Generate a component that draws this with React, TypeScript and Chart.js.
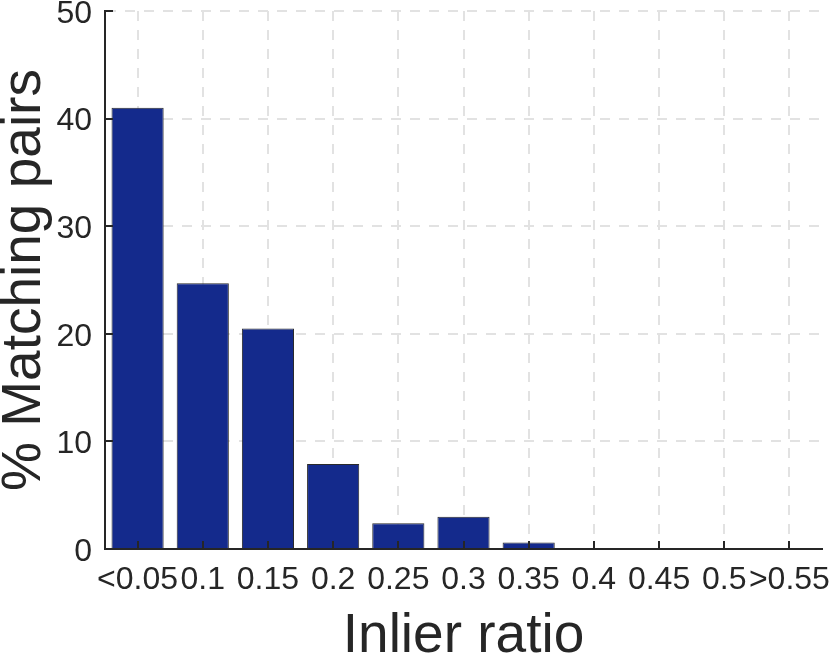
import React, { useEffect, useRef } from "react";
import { Chart, registerables } from "chart.js";

Chart.register(...registerables);

const categories = ["<0.05", "0.1", "0.15", "0.2", "0.25", "0.3", "0.35", "0.4", "0.45", "0.5", ">0.55"];
const matchingPairs = [41.0, 24.7, 20.5, 7.9, 2.4, 3.0, 0.6, 0, 0, 0, 0];
const yTicks = [0, 10, 20, 30, 40, 50];
const xTitle = "Inlier ratio";
const yTitle = "% Matching pairs";

const TEXT = "#262626";
const FONT = "'Liberation Sans', Arial, Helvetica, sans-serif";
const BAR = "#142A8C";
const GRID = "#e2e2e2";

const inwardTicks = {
  id: "inwardTicks",
  afterDatasetsDraw(chart: any) {
    const { ctx, chartArea, scales } = chart;
    const x = scales.x;
    const y = scales.y;
    ctx.save();
    ctx.strokeStyle = TEXT;
    ctx.lineWidth = 2;
    ctx.setLineDash([]);
    ctx.beginPath();
    x.ticks.forEach((_: any, i: number) => {
      const px = Math.round(x.getPixelForTick(i));
      ctx.moveTo(px, chartArea.bottom);
      ctx.lineTo(px, chartArea.bottom - 8);
    });
    y.ticks.forEach((t: any) => {
      const py = Math.round(y.getPixelForValue(t.value));
      ctx.moveTo(chartArea.left, py);
      ctx.lineTo(chartArea.left + 8, py);
    });
    ctx.stroke();
    ctx.restore();
  },
};

export default function App() {
  const ref = useRef<HTMLCanvasElement | null>(null);

  useEffect(() => {
    document.body.style.margin = "0";
    const canvas = ref.current;
    if (!canvas) return;
    const chart = new Chart(canvas, {
      type: "bar",
      data: {
        labels: categories,
        datasets: [
          {
            data: matchingPairs,
            backgroundColor: BAR,
            borderColor: "#2a2a2a",
            borderWidth: 1,
            barPercentage: 0.8,
            categoryPercentage: 1.0,
          },
        ],
      },
      options: {
        responsive: false,
        animation: false,
        devicePixelRatio: 1,
        layout: { padding: { top: 11, right: 9, left: 0, bottom: 0 } },
        plugins: {
          legend: { display: false },
          tooltip: { enabled: false },
        },
        scales: {
          x: {
            offset: true,
            grid: {
              offset: false,
              color: GRID,
              lineWidth: 2,
              drawTicks: false,
            },
            border: { display: true, color: TEXT, width: 2, dash: [10, 9] },
            ticks: {
              autoSkip: false,
              maxRotation: 0,
              minRotation: 0,
              padding: 12,
              color: TEXT,
              font: { family: FONT, size: 32, lineHeight: 1.2 },
            },
            title: {
              display: true,
              text: xTitle,
              color: TEXT,
              padding: 0,
              font: { family: FONT, size: 55, lineHeight: 0.87 },
            },
            afterFit(scale: any) {
              scale.height = 112;
              scale.paddingLeft = 0;
              scale.paddingRight = 0;
            },
          },
          y: {
            min: 0,
            max: 50,
            grid: {
              color: GRID,
              lineWidth: 2,
              drawTicks: false,
            },
            border: { display: true, color: TEXT, width: 2, dash: [10, 9] },
            afterBuildTicks(scale: any) {
              scale.ticks = yTicks.map((v) => ({ value: v }));
            },
            ticks: {
              padding: 13,
              labelOffset: 3,
              color: TEXT,
              font: { family: FONT, size: 32, lineHeight: 1.2 },
            },
            title: {
              display: true,
              text: yTitle,
              color: TEXT,
              padding: 0,
              font: { family: FONT, size: 55, lineHeight: 0.91 },
            },
            afterFit(scale: any) {
              scale.width = 105;
              scale.paddingTop = 0;
              scale.paddingBottom = 0;
            },
          },
        },
      },
      plugins: [inwardTicks],
    });
    return () => chart.destroy();
  }, []);

  return <canvas ref={ref} width={831} height={661} style={{ display: "block" }} />;
}
